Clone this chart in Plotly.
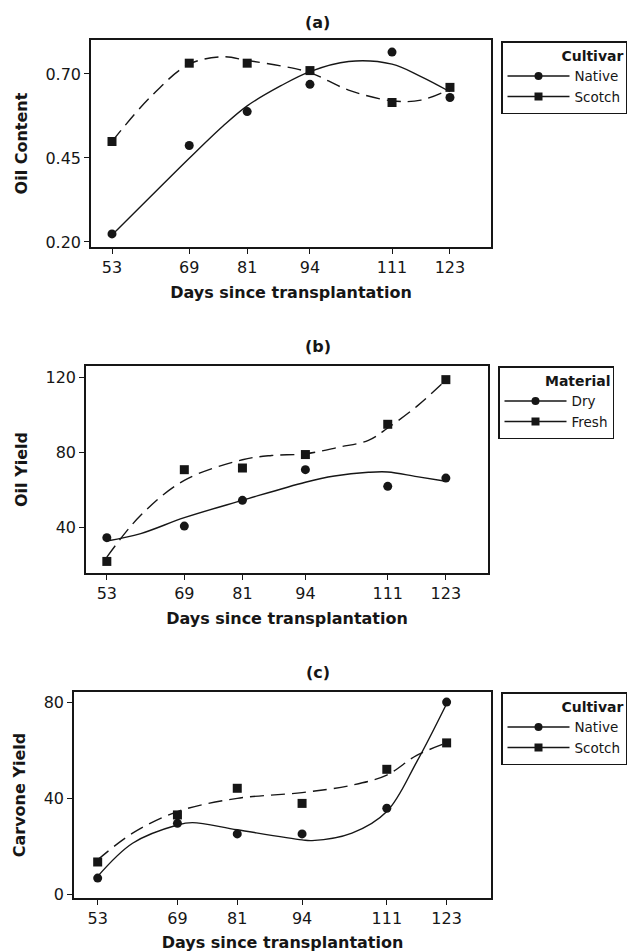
import plotly.graph_objects as go

# ---------------- data ----------------
days = [53, 69, 81, 94, 111, 123]
day_ticks = ["53", "69", "81", "94", "111", "123"]

# (a) Oil content by cultivar
oil_content_native = [0.224, 0.487, 0.588, 0.669, 0.765, 0.630]
oil_content_scotch = [0.499, 0.732, 0.732, 0.710, 0.615, 0.660]
fit_days_a_native = [53, 61, 69, 76, 81, 88, 94, 102, 111, 117, 123]
oil_content_native_fit = [0.221, 0.335, 0.449, 0.545, 0.605, 0.665, 0.707, 0.737, 0.729, 0.692, 0.647]
fit_days_a_scotch = [53, 61, 69, 76, 81, 88, 94, 102, 111, 117, 123]
oil_content_scotch_fit = [0.499, 0.632, 0.729, 0.751, 0.740, 0.724, 0.704, 0.652, 0.620, 0.622, 0.655]
a_yticks = [0.20, 0.45, 0.70]
a_yticktext = ["0.20", "0.45", "0.70"]

# (b) Oil yield by material
oil_yield_dry = [34.3, 40.5, 54.3, 70.7, 61.8, 66.2]
oil_yield_fresh = [21.6, 70.7, 71.6, 78.8, 95.0, 118.9]
fit_days_b_dry = [53, 60, 69, 81, 94, 100, 107, 111, 117, 123]
oil_yield_dry_fit = [32.5, 36.5, 45.0, 54.3, 64.0, 67.3, 69.3, 69.5, 67.0, 64.5]
fit_days_b_fresh = [53, 60, 69, 81, 87, 94, 101, 107, 111, 117, 123]
oil_yield_fresh_fit = [23.9, 46.3, 65.0, 76.0, 78.3, 79.2, 82.8, 86.4, 93.0, 104.6, 118.6]
b_yticks = [40, 80, 120]
b_yticktext = ["40", "80", "120"]

# (c) Carvone yield by cultivar
carvone_native = [6.9, 29.7, 25.3, 25.3, 36.0, 80.2]
carvone_scotch = [13.6, 33.2, 44.3, 38.0, 52.2, 63.2]
fit_days_c_native = [53, 60, 69, 72, 81, 94, 96, 104, 111, 117, 123]
carvone_native_fit = [7.6, 21.4, 29.0, 30.0, 27.0, 22.8, 22.5, 25.6, 34.6, 55.3, 79.5]
fit_days_c_scotch = [53, 60, 69, 81, 94, 104, 111, 117, 123]
carvone_scotch_fit = [14.5, 25.6, 34.6, 40.1, 42.5, 45.6, 49.8, 58.0, 63.2]
c_yticks = [0, 40, 80]
c_yticktext = ["0", "40", "80"]

panel_titles = ["(a)", "(b)", "(c)"]
y_titles = ["Oil Content", "Oil Yield", "Carvone Yield"]
x_title = "Days since transplantation"
legend_titles = ["Cultivar", "Material", "Cultivar"]
group_names = [["Native", "Scotch"], ["Dry", "Fresh"], ["Native", "Scotch"]]

# ---------------- figure ----------------
INK = "#161616"
FONT = "DejaVu Sans"
W, H = 635, 952

fig = go.Figure()

panels = [
    dict(pts=[oil_content_native, oil_content_scotch],
         fits=[(fit_days_a_native, oil_content_native_fit), (fit_days_a_scotch, oil_content_scotch_fit)]),
    dict(pts=[oil_yield_dry, oil_yield_fresh],
         fits=[(fit_days_b_dry, oil_yield_dry_fit), (fit_days_b_fresh, oil_yield_fresh_fit)]),
    dict(pts=[carvone_native, carvone_scotch],
         fits=[(fit_days_c_native, carvone_native_fit), (fit_days_c_scotch, carvone_scotch_fit)]),
]
symbols = ["circle", "square"]
marker_sizes = [9, 9]
dashes = ["solid", "14px,7px"]
legend_ids = ["legend", "legend2", "legend3"]

for i, p in enumerate(panels):
    xa = "x" if i == 0 else f"x{i+1}"
    ya = "y" if i == 0 else f"y{i+1}"
    for k in range(2):
        fx, fy = p["fits"][k]
        fig.add_trace(go.Scatter(
            x=fx, y=fy, mode="lines", line=dict(color=INK, width=1.4, dash=dashes[k], shape="spline", smoothing=1.0),
            xaxis=xa, yaxis=ya, showlegend=False, hoverinfo="skip"))
        fig.add_trace(go.Scatter(
            x=days, y=p["pts"][k], mode="markers",
            marker=dict(symbol=symbols[k], size=marker_sizes[k], color=INK),
            xaxis=xa, yaxis=ya, showlegend=False, name=group_names[i][k]))
    for k in range(2):
        fig.add_trace(go.Scatter(
            x=[None], y=[None], mode="lines+markers", name=group_names[i][k],
            line=dict(color=INK, width=1.4), marker=dict(symbol=symbols[k], size=8, color=INK),
            xaxis=xa, yaxis=ya, legend=legend_ids[i], showlegend=True))

axis_common = dict(
    showline=True, mirror=True, linecolor=INK, linewidth=1.6,
    ticks="outside", ticklen=5, tickwidth=1.4, tickcolor=INK,
    showgrid=False, zeroline=False, automargin=False,
    tickfont=dict(family=FONT, size=16, color=INK),
)

# plot-area boxes measured in pixels (left, right, top, bottom)
boxes = [(91, 491, 40, 247), (86, 488, 366, 573), (74, 491, 692, 898)]
xranges = [[48.65, 131.5], [48.7, 131.7], [48.25, 131.9]]
yranges = [[0.185, 0.801], [15.4, 126.2], [-1.4, 84.4]]
ytickvals = [a_yticks, b_yticks, c_yticks]
yticktexts = [a_yticktext, b_yticktext, c_yticktext]
legend_pos = [(501, 41), (498, 366), (501, 692)]
title_y = [22, 346, 672]

layout = dict(
    width=W, height=H, margin=dict(l=0, r=0, t=0, b=0, autoexpand=False),
    paper_bgcolor="white", plot_bgcolor="white",
    font=dict(family=FONT, color=INK),
)
annotations = []
for i in range(3):
    l, r, t, b = boxes[i]
    xk = "xaxis" if i == 0 else f"xaxis{i+1}"
    yk = "yaxis" if i == 0 else f"yaxis{i+1}"
    ya = "y" if i == 0 else f"y{i+1}"
    xa = "x" if i == 0 else f"x{i+1}"
    layout[xk] = dict(axis_common, domain=[l / W, r / W], range=xranges[i], anchor=ya,
                      tickvals=days, ticktext=day_ticks,
                      title=dict(text=x_title, font=dict(family=FONT, size=16, weight="bold", color=INK), standoff=11))
    layout[yk] = dict(axis_common, domain=[1 - b / H, 1 - t / H], range=yranges[i], anchor=xa,
                      tickvals=ytickvals[i], ticktext=yticktexts[i],
                      title=dict(text=y_titles[i], font=dict(family=FONT, size=16, weight="bold", color=INK), standoff=14))
    lx, ly = legend_pos[i]
    layout[legend_ids[i]] = dict(
        x=lx / W, y=1 - ly / H, xanchor="left", yanchor="top",
        bordercolor=INK, borderwidth=1.5, bgcolor="white",
        font=dict(family=FONT, size=13.5, color=INK),
        title=dict(text=legend_titles[i], side="top right", font=dict(family=FONT, size=14, weight="bold", color=INK)),
        tracegroupgap=0, itemwidth=62,
    )
    annotations.append(dict(text=panel_titles[i], x=0.5, y=1 - title_y[i] / H, xref="paper", yref="paper",
                            xanchor="center", yanchor="middle", showarrow=False,
                            font=dict(family=FONT, size=16, weight="bold", color=INK)))
layout["annotations"] = annotations
fig.update_layout(**layout)

fig.write_html("out.html", config={"displayModeBar": False},
               post_script="document.body.style.margin='0';document.body.style.padding='0';")
